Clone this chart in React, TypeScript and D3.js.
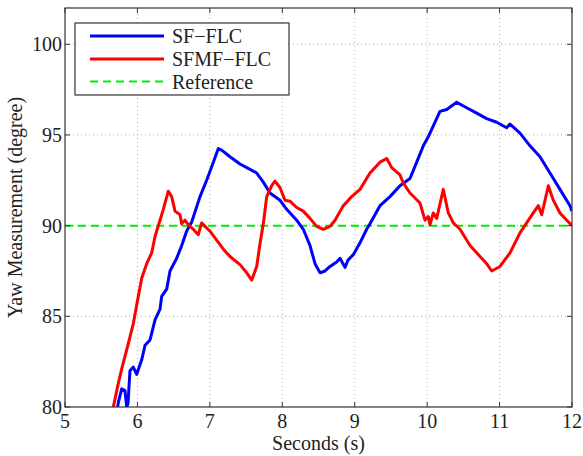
import React, { useEffect, useRef } from "react";
import * as d3 from "d3";

const sfTime = [5.70, 5.718, 5.739, 5.783, 5.828, 5.852, 5.870, 5.897, 5.943, 5.990, 6.059, 6.105, 6.174, 6.243, 6.312, 6.335, 6.404, 6.450, 6.542, 6.611, 6.680, 6.749, 6.864, 6.956, 7.048, 7.117, 7.168, 7.278, 7.416, 7.554, 7.647, 7.738, 7.830, 7.968, 8.061, 8.199, 8.290, 8.383, 8.452, 8.521, 8.590, 8.659, 8.751, 8.797, 8.838, 8.866, 8.907, 8.980, 9.073, 9.165, 9.211, 9.349, 9.487, 9.625, 9.763, 9.856, 9.947, 10.016, 10.085, 10.177, 10.270, 10.408, 10.546, 10.684, 10.822, 10.960, 11.098, 11.144, 11.282, 11.420, 11.558, 11.696, 11.834, 11.972, 12.0];
const sfValue = [79.5, 79.8, 80.3, 81.0, 80.9, 80.0, 80.2, 82.0, 82.2, 81.8, 82.6, 83.4, 83.7, 84.8, 85.4, 86.1, 86.5, 87.5, 88.2, 88.9, 89.7, 90.2, 91.6, 92.5, 93.5, 94.25, 94.15, 93.8, 93.4, 93.1, 92.9, 92.4, 91.8, 91.4, 90.9, 90.3, 89.8, 88.9, 87.9, 87.4, 87.5, 87.75, 88.0, 88.2, 87.9, 87.7, 88.1, 88.4, 89.05, 89.8, 90.1, 91.1, 91.6, 92.2, 92.6, 93.5, 94.4, 94.9, 95.5, 96.3, 96.4, 96.8, 96.5, 96.2, 95.9, 95.7, 95.4, 95.6, 95.1, 94.4, 93.8, 92.9, 92.0, 91.1, 90.8];

const sfmfTime = [5.656, 5.667, 5.736, 5.783, 5.874, 5.943, 6.012, 6.059, 6.128, 6.197, 6.243, 6.312, 6.357, 6.426, 6.473, 6.519, 6.588, 6.611, 6.657, 6.702, 6.771, 6.840, 6.887, 6.933, 7.002, 7.094, 7.186, 7.278, 7.416, 7.509, 7.578, 7.647, 7.692, 7.738, 7.785, 7.854, 7.899, 7.968, 8.037, 8.106, 8.199, 8.290, 8.383, 8.475, 8.566, 8.659, 8.728, 8.842, 8.958, 9.073, 9.211, 9.349, 9.442, 9.511, 9.625, 9.671, 9.763, 9.901, 9.970, 10.016, 10.039, 10.085, 10.132, 10.223, 10.292, 10.361, 10.454, 10.592, 10.730, 10.822, 10.891, 11.006, 11.144, 11.282, 11.374, 11.466, 11.535, 11.582, 11.673, 11.742, 11.834, 11.927, 12.0];
const sfmfValue = [79.7, 80.0, 81.3, 82.1, 83.5, 84.6, 86.1, 87.1, 87.9, 88.5, 89.4, 90.3, 90.9, 91.9, 91.6, 90.8, 90.6, 90.1, 90.3, 90.05, 89.8, 89.5, 90.15, 89.96, 89.7, 89.2, 88.7, 88.3, 87.85, 87.4, 87.0, 87.75, 89.0, 90.1, 91.6, 92.2, 92.45, 92.1, 91.4, 91.35, 91.0, 90.8, 90.4, 89.96, 89.8, 89.96, 90.3, 91.1, 91.6, 92.0, 92.9, 93.5, 93.7, 93.2, 92.8, 92.35, 91.8, 91.25, 90.3, 90.5, 90.05, 90.7, 90.4, 92.0, 90.7, 90.15, 89.8, 88.9, 88.3, 87.9, 87.5, 87.75, 88.5, 89.6, 90.15, 90.7, 91.1, 90.6, 92.2, 91.4, 90.7, 90.3, 90.0];

const referenceValue = 90;
const xTicks = [5, 6, 7, 8, 9, 10, 11, 12];
const yTicks = [80, 85, 90, 95, 100];
const seriesNames = ["SF\u2212FLC", "SFMF\u2212FLC", "Reference"];
const seriesColors = ["#0000ff", "#ff0000", "#00ee00"];

const W = 583, H = 456;
const margin = { left: 65, right: 11, top: 8, bottom: 49 };
const FONT = "'Liberation Serif', 'DejaVu Serif', serif";

export default function App() {
  const ref = useRef<SVGSVGElement | null>(null);
  useEffect(() => {
    const svg = d3.select(ref.current);
    svg.selectAll("*").remove();
    const x0 = margin.left, x1 = W - margin.right, y0 = H - margin.bottom, y1 = margin.top;
    const x = d3.scaleLinear().domain([5, 12]).range([x0, x1]);
    const y = d3.scaleLinear().domain([80, 102]).range([y0, y1]);

    svg.append("rect").attr("x", 0).attr("y", 0).attr("width", W).attr("height", H).attr("fill", "#fff");

    svg.append("defs").append("clipPath").attr("id", "plotclip")
      .append("rect").attr("x", x0).attr("y", y1).attr("width", x1 - x0).attr("height", y0 - y1);

    const grid = svg.append("g");
    xTicks.slice(1, -1).forEach((t) => {
      grid.append("line").attr("x1", x(t)).attr("x2", x(t)).attr("y1", y0).attr("y2", y1)
        .attr("stroke", "#b0b0b0").attr("stroke-width", 1).attr("stroke-dasharray", "1,3");
    });
    yTicks.slice(1).forEach((t) => {
      grid.append("line").attr("x1", x0).attr("x2", x1).attr("y1", y(t)).attr("y2", y(t))
        .attr("stroke", "#b0b0b0").attr("stroke-width", 1).attr("stroke-dasharray", "1,3");
    });

    const plot = svg.append("g").attr("clip-path", "url(#plotclip)");
    const line = d3.line<[number, number]>().x((d) => x(d[0])).y((d) => y(d[1]));

    plot.append("line").attr("x1", x0).attr("x2", x1).attr("y1", y(referenceValue)).attr("y2", y(referenceValue))
      .attr("stroke", seriesColors[2]).attr("stroke-width", 2).attr("stroke-dasharray", "8,5");

    const sfData = sfTime.map((t, i) => [t, sfValue[i]] as [number, number]);
    const sfmfData = sfmfTime.map((t, i) => [t, sfmfValue[i]] as [number, number]);
    plot.append("path").attr("d", line(sfData)).attr("fill", "none").attr("stroke", seriesColors[0])
      .attr("stroke-width", 3).attr("stroke-linejoin", "round");
    plot.append("path").attr("d", line(sfmfData)).attr("fill", "none").attr("stroke", seriesColors[1])
      .attr("stroke-width", 3).attr("stroke-linejoin", "round");

    // frame
    svg.append("rect").attr("x", x0).attr("y", y1).attr("width", x1 - x0).attr("height", y0 - y1)
      .attr("fill", "none").attr("stroke", "#333").attr("stroke-width", 1.2);

    // ticks
    const tk = 5;
    xTicks.forEach((t) => {
      svg.append("line").attr("x1", x(t)).attr("x2", x(t)).attr("y1", y0).attr("y2", y0 - tk).attr("stroke", "#333");
      svg.append("line").attr("x1", x(t)).attr("x2", x(t)).attr("y1", y1).attr("y2", y1 + tk).attr("stroke", "#333");
      svg.append("text").attr("x", x(t)).attr("y", y0 + 21).attr("text-anchor", "middle")
        .attr("font-family", FONT).attr("font-size", 20).attr("fill", "#222").text(String(t));
    });
    yTicks.forEach((t) => {
      svg.append("line").attr("x1", x0).attr("x2", x0 + tk).attr("y1", y(t)).attr("y2", y(t)).attr("stroke", "#333");
      svg.append("line").attr("x1", x1).attr("x2", x1 - tk).attr("y1", y(t)).attr("y2", y(t)).attr("stroke", "#333");
      svg.append("text").attr("x", x0 - 3).attr("y", y(t) + 7).attr("text-anchor", "end")
        .attr("font-family", FONT).attr("font-size", 20).attr("fill", "#222").text(String(t));
    });

    svg.append("text").attr("x", (x0 + x1) / 2).attr("y", H - 6).attr("text-anchor", "middle")
      .attr("font-family", FONT).attr("font-size", 20).attr("fill", "#222").text("Seconds (s)");
    svg.append("text").attr("transform", `translate(22,${(y0 + y1) / 2}) rotate(-90)`).attr("text-anchor", "middle")
      .attr("font-family", FONT).attr("font-size", 20).attr("fill", "#222").text("Yaw Measurement (degree)");

    // legend
    const lg = svg.append("g");
    lg.append("rect").attr("x", 75).attr("y", 23).attr("width", 214).attr("height", 72)
      .attr("fill", "#fff").attr("stroke", "#333").attr("stroke-width", 1.2);
    const rows = [36, 59, 81.5];
    seriesNames.forEach((name, i) => {
      const l = lg.append("line").attr("x1", 90).attr("x2", 164).attr("y1", rows[i]).attr("y2", rows[i])
        .attr("stroke", seriesColors[i]).attr("stroke-width", i < 2 ? 3 : 2);
      if (i === 2) l.attr("stroke-dasharray", "8,5");
      lg.append("text").attr("x", 172).attr("y", rows[i] + 7).attr("font-family", FONT).attr("font-size", 20)
        .attr("fill", "#222").text(name);
    });
  }, []);
  return (
    <svg ref={ref} width={W} height={H} style={{ position: "absolute", left: 0, top: 0, display: "block" }} />
  );
}
